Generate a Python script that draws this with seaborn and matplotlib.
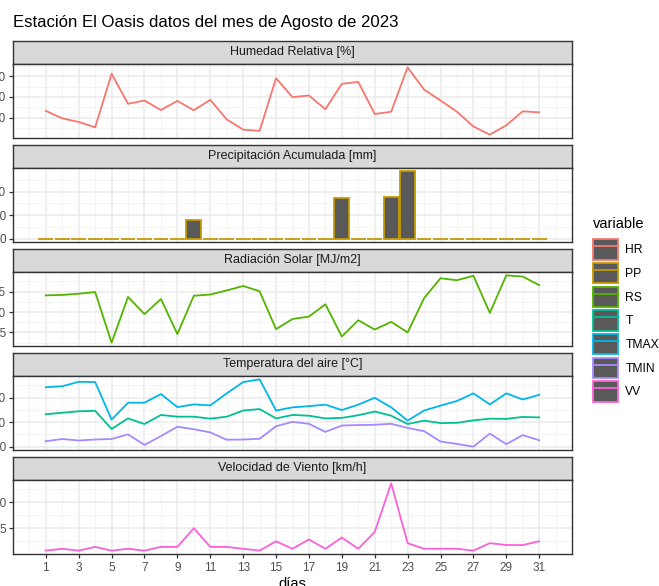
import numpy as np
import pandas as pd
import matplotlib
matplotlib.use('Agg')
import matplotlib.pyplot as plt
from matplotlib.patches import Patch
from matplotlib.lines import Line2D
from matplotlib.legend_handler import HandlerTuple
import seaborn as sns

plt.rcParams['font.family'] = ['Liberation Sans', 'DejaVu Sans']

# datos diarios, agosto 2023
dias = list(range(1, 32))
hr = [63.3, 59.7, 58.0, 55.4, 81.1, 66.7, 68.3, 63.7, 68.1, 63.6, 68.6, 59.2, 54.3, 53.7, 79.0, 69.9,
      70.7, 64.1, 76.3, 77.2, 61.8, 62.9, 84.2, 73.5, 68.3, 62.9, 55.8, 51.9, 56.4, 63.1, 62.6]
pp = [0, 0, 0, 0, 0, 0, 0, 0, 0, 8.1, 0, 0, 0, 0, 0, 0,
      0, 0, 17.4, 0, 0, 17.7, 28.6, 0, 0, 0, 0, 0, 0, 0, 0]
rs = [24.1, 24.2, 24.5, 24.9, 12.5, 23.7, 19.5, 23.2, 14.6, 24.0, 24.3, 25.3, 26.4, 25.1, 15.8, 18.3,
      18.9, 21.9, 14.0, 18.0, 15.7, 17.6, 15.0, 23.4, 28.3, 27.8, 28.9, 19.8, 29.0, 28.7, 26.6]
t = [23.2, 23.8, 24.4, 24.6, 17.2, 21.5, 19.2, 22.9, 22.2, 22.2, 21.4, 22.2, 24.7, 25.3, 21.5, 22.9,
     22.6, 21.5, 21.7, 22.8, 24.3, 22.6, 19.2, 20.6, 19.6, 19.7, 20.7, 21.4, 21.3, 22.1, 21.9]
tmax = [34.2, 34.6, 36.4, 36.3, 21.0, 27.9, 27.9, 31.4, 26.1, 27.2, 26.8, 31.7, 36.3, 37.4, 24.7, 26.0,
        26.5, 27.1, 24.9, 27.1, 29.9, 26.0, 20.6, 24.7, 26.7, 28.6, 31.7, 27.2, 31.7, 29.2, 31.1]
tmin = [12.2, 13.1, 12.5, 12.9, 13.1, 15.0, 10.7, 14.3, 18.1, 17.1, 15.8, 12.8, 12.9, 13.2, 18.3, 20.1,
        19.3, 16.0, 18.6, 18.8, 18.9, 19.3, 17.6, 16.3, 12.1, 11.1, 10.0, 15.3, 11.0, 14.7, 12.6]
vv = [0.72, 1.08, 0.72, 1.44, 0.72, 1.08, 0.72, 1.44, 1.44, 5.04, 1.44, 1.44, 1.08, 0.72, 2.52, 1.08,
      2.88, 1.08, 3.24, 1.08, 4.32, 13.68, 2.16, 1.08, 1.08, 1.08, 0.72, 2.16, 1.8, 1.8, 2.52]

variables = ['HR', 'PP', 'RS', 'T', 'TMAX', 'TMIN', 'VV']
colores = ['#F8766D', '#C49A00', '#53B400', '#00C094', '#00B6EB', '#A58AFF', '#FB61D7']
paleta = dict(zip(variables, colores))

paneles = [
    ('Humedad Relativa [%]', ['HR'], [60, 70, 80]),
    ('Precipitación Acumulada [mm]', ['PP'], [0, 10, 20]),
    ('Radiación Solar [MJ/m2]', ['RS'], [15, 20, 25]),
    ('Temperatura del aire [°C]', ['T', 'TMAX', 'TMIN'], [10, 20, 30]),
    ('Velocidad de Viento [km/h]', ['VV'], [5, 10]),
]

df = pd.DataFrame({'dia': dias, 'HR': hr, 'PP': pp, 'RS': rs, 'T': t,
                   'TMAX': tmax, 'TMIN': tmin, 'VV': vv})
largo = df.melt(id_vars='dia', var_name='variable', value_name='valor')

W, H = 659, 586
fig = plt.figure(figsize=(W / 100, H / 100), dpi=100)


def caja(left, top, right, bottom):
    return [left / W, 1 - bottom / H, (right - left) / W, (bottom - top) / H]


borde = '#333333'
izq, der = 13, 572
tops = [41, 145, 249, 353, 457]
ancho_barra = 0.9
xmin = 1 - ancho_barra / 2
xmax = 31 + ancho_barra / 2
xpad = (xmax - xmin) * 0.05

for i, (titulo, vars_, yticks) in enumerate(paneles):
    top = tops[i]
    # franja con el titulo del panel
    sax = fig.add_axes(caja(izq, top, der, top + 23))
    sax.set_facecolor('#D9D9D9')
    sax.set_xticks([])
    sax.set_yticks([])
    for s in sax.spines.values():
        s.set_color(borde)
        s.set_linewidth(1.0)
    sax.text(0.5, 0.5, titulo, ha='center', va='center', fontsize=9, color='#1A1A1A',
             transform=sax.transAxes)

    ax = fig.add_axes(caja(izq, top + 23, der, top + 97))
    ax.set_facecolor('white')
    ax.set_axisbelow(True)

    if vars_ == ['PP']:
        ax.bar(dias, pp, width=ancho_barra, color='#595959', edgecolor=paleta['PP'],
               linewidth=1.3, zorder=2)
        lo, hi = 0, max(pp)
    else:
        sub = largo[largo['variable'].isin(vars_)]
        sns.lineplot(data=sub, x='dia', y='valor', hue='variable', palette=paleta,
                     ax=ax, legend=False, linewidth=1.3, zorder=2)
        lo, hi = sub['valor'].min(), sub['valor'].max()
    ypad = (hi - lo) * 0.05
    ax.set_ylim(lo - ypad, hi + ypad)
    ax.set_xlim(xmin - xpad, xmax + xpad)

    ax.set_yticks(yticks)
    paso = yticks[1] - yticks[0]
    menores = np.arange(yticks[0] - paso / 2, yticks[-1] + paso, paso)
    menores = [m for m in menores if lo - ypad <= m <= hi + ypad]
    ax.set_yticks(menores, minor=True)
    ax.set_xticks(range(1, 32, 2))
    ax.set_xticks(range(0, 33, 2), minor=True)

    ax.grid(which='major', color='#EBEBEB', linewidth=1.1)
    ax.grid(which='minor', color='#F3F3F3', linewidth=0.6)
    ax.tick_params(which='minor', length=0)
    ax.tick_params(axis='y', which='major', length=3, width=0.9, color=borde,
                   labelsize=8.5, labelcolor='#4D4D4D', pad=2)
    for s in ax.spines.values():
        s.set_color(borde)
        s.set_linewidth(1.0)
    ax.set_ylabel('')
    if i < len(paneles) - 1:
        ax.tick_params(axis='x', which='major', length=0, labelbottom=False)
        ax.set_xlabel('')
    else:
        ax.tick_params(axis='x', which='major', length=3, width=0.9, color=borde,
                       labelsize=8.5, labelcolor='#4D4D4D', pad=3)
        ax.set_xlabel('días', fontsize=10.5, labelpad=2)

fig.text(izq / W, 1 - 22 / H, 'Estación El Oasis datos del mes de Agosto de 2023',
         fontsize=12.1, va='center', ha='left', color='black')

handles = []
for v in variables:
    handles.append((Patch(facecolor='#595959', edgecolor=paleta[v], linewidth=1.3),
                    Line2D([], [], color=paleta[v], linewidth=1.3)))
leg = fig.legend(handles, variables, handler_map={tuple: HandlerTuple(ndivide=1)},
                 loc='upper left', bbox_to_anchor=(593 / W, 1 - 217 / H),
                 frameon=False, title='variable', title_fontsize=10.5, fontsize=8.7,
                 handlelength=2.07, handleheight=2.22, labelspacing=0.27,
                 handletextpad=0.6, borderpad=0, borderaxespad=0, alignment='left')
# mas espacio entre el titulo y las claves
leg._legend_box.sep = 6.0

fig.savefig('out.png', dpi=100)
